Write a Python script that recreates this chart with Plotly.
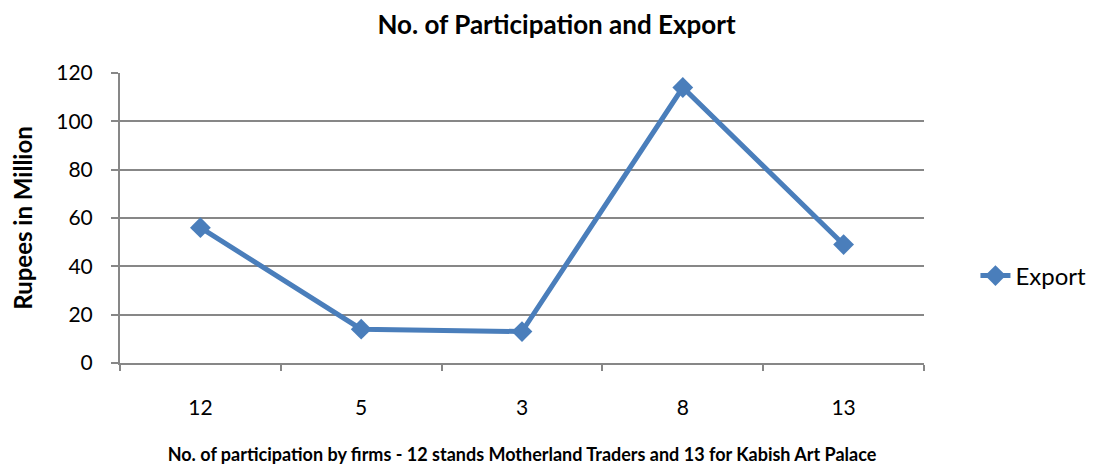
import plotly.graph_objects as go

categories = ["12", "5", "3", "8", "13"]
export_values = [56, 14, 13, 114, 49]
y_ticks = [0, 20, 40, 60, 80, 100, 120]

FONT = "Lato, 'Open Sans', sans-serif"
GRID = "#878787"
BLUE = "#4a7ebb"

fig = go.Figure()
fig.add_trace(go.Scatter(
    x=categories, y=export_values, name="Export", mode="lines+markers",
    line=dict(color=BLUE, width=5),
    marker=dict(symbol="diamond", size=16, color=BLUE),
))

fig.update_layout(
    width=1097, height=466,
    margin=dict(l=112, r=181, t=65, b=111, autoexpand=False),
    paper_bgcolor="white", plot_bgcolor="white",
    font=dict(family=FONT, color="black"),
    title=dict(text="<b>No. of Participation and Export</b>", x=0.5, xanchor="center",
               y=0.964, yanchor="middle", font=dict(size=26, family=FONT)),
    showlegend=True,
    legend=dict(x=1.064, y=0.30, xanchor="left", yanchor="middle",
                font=dict(size=24, family=FONT), bgcolor="rgba(0,0,0,0)"),
    xaxis=dict(
        type="category", tickson="boundaries", ticks="outside", ticklen=6,
        tickcolor=GRID, tickwidth=1.5, showline=True, linecolor=GRID, linewidth=2,
        showgrid=False, tickfont=dict(size=21, family=FONT), range=[-0.5, 4.5],
        ticklabelstandoff=25,
        title=dict(text="<b>No. of participation by firms - 12 stands Motherland Traders and 13 for Kabish Art Palace</b>",
                   font=dict(size=18, family=FONT), standoff=30),
    ),
    yaxis=dict(
        range=[0, 120], tickvals=y_ticks, ticks="outside", ticklen=7,
        tickcolor=GRID, tickwidth=1.5, showline=True, linecolor=GRID, linewidth=2,
        showgrid=True, gridcolor=GRID, gridwidth=1.5, zeroline=False,
        tickfont=dict(size=21, family=FONT), ticklabelstandoff=14,
        title=dict(text="<b>Rupees in Million</b>", font=dict(size=24, family=FONT), standoff=30),
    ),
)

fig.write_html("out.html")
